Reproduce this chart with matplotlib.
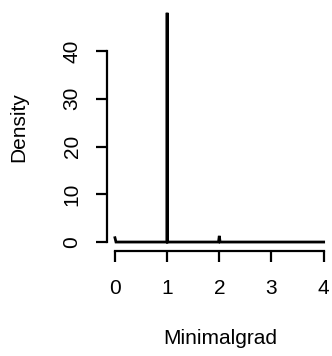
import matplotlib
matplotlib.use("Agg")
import matplotlib.pyplot as plt

# Density curve of Minimalgrad (kernel density with very small bandwidth)
grad_x = [0.0, 0.02, 0.995, 1.0, 1.005, 1.985, 2.0, 2.015, 4.0]
density = [0.9, 0.0, 0.0, 48.0, 0.0, 0.0, 1.3, 0.0, 0.0]
xticks = [0, 1, 2, 3, 4]
yticks = [0, 10, 20, 30, 40]

plt.rcParams['font.family'] = ['Liberation Sans', 'DejaVu Sans']
FS = 15

fig = plt.figure(figsize=(3.32, 3.56), dpi=100)
ax = fig.add_axes([106.6/332, 1-251.2/356, 1-106.6/332, (251.2-3.6)/356])
ax.plot(grad_x, density, color='black', lw=2.0, solid_joinstyle='miter')
ax.set_xlim(-0.16, 4.16)
ax.set_ylim(-1.92, 49.92)

for s in ['top', 'right']:
    ax.spines[s].set_visible(False)
ax.spines['left'].set_bounds(0, 40)
ax.spines['bottom'].set_bounds(0, 4)
for s in ['left', 'bottom']:
    ax.spines[s].set_linewidth(1.6)
ax.set_xticks(xticks)
ax.set_yticks(yticks)
ax.set_xticklabels([str(v) for v in xticks], fontsize=FS)
ax.set_yticklabels([str(v) for v in yticks], fontsize=FS, rotation=90, va='center')
ax.tick_params(direction='out', length=8, width=1.6)
ax.tick_params(axis='x', pad=12)
ax.tick_params(axis='y', pad=10)

fig.text(19/332, 1-127/356, 'Density', rotation=90, ha='center', va='center', fontsize=FS)
fig.text(220/332, 1-339/356, 'Minimalgrad', ha='center', va='center', fontsize=FS)

fig.savefig('out.png', dpi=100)
